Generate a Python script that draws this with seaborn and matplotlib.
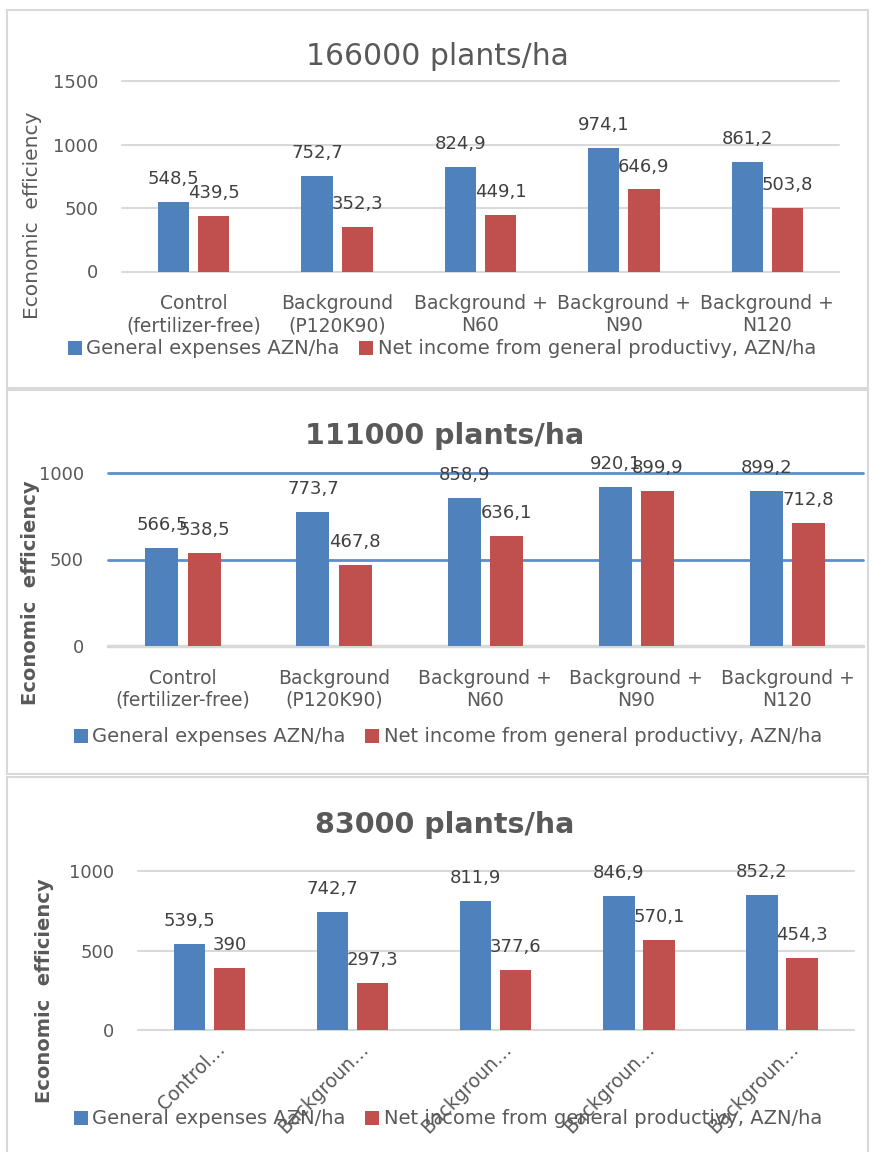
import matplotlib

matplotlib.use("Agg")
import matplotlib.pyplot as plt
import matplotlib.transforms as mtransforms
import pandas as pd
import seaborn as sns
from matplotlib.patches import Rectangle

sns.set_theme(style="white")
plt.rcParams["font.family"] = ["DejaVu Sans"]

W, H = 873, 1152

treatments = [
    "Control\n(fertilizer-free)",
    "Background\n(P120K90)",
    "Background +\nN60",
    "Background +\nN90",
    "Background +\nN120",
]
short_labels = ["Control…", "Backgroun…", "Backgroun…", "Backgroun…", "Backgroun…"]
series_names = ["General expenses AZN/ha", "Net income from general productivy, AZN/ha"]

expenses_166 = [548.5, 752.7, 824.9, 974.1, 861.2]
income_166 = [439.5, 352.3, 449.1, 646.9, 503.8]
expenses_111 = [566.5, 773.7, 858.9, 920.1, 899.2]
income_111 = [538.5, 467.8, 636.1, 899.9, 712.8]
expenses_83 = [539.5, 742.7, 811.9, 846.9, 852.2]
income_83 = [390, 297.3, 377.6, 570.1, 454.3]

titles = ["166000 plants/ha", "111000 plants/ha", "83000 plants/ha"]
yticks_166 = [0, 500, 1000, 1500]
yticks_other = [0, 500, 1000]

BLUE = "#4F81BD"
RED = "#C0504D"
GREY_TXT = "#595959"
GRID = "#D9D9D9"


def fx(px):
    return px / W


def fy(py):
    return 1 - py / H


def fmt(v):
    return f"{v:g}".replace(".", ",")


def draw_panel(fig, box, axes_px, expenses, income, title, bold, yticks,
               grid_color, title_xy, ylabel_xy, legend_xy, rotated=False):
    # panel frame
    x0, y0, x1, y1 = box
    fig.patches.append(Rectangle((fx(x0), fy(y1)), fx(x1) - fx(x0), fy(y0) - fy(y1),
                                 transform=fig.transFigure, fill=False,
                                 edgecolor=GRID, linewidth=1.5))
    left, top, right, bottom = axes_px
    ax = fig.add_axes([fx(left), fy(bottom), fx(right) - fx(left), fy(top) - fy(bottom)])

    df = pd.DataFrame({
        "treatment": treatments * 2,
        "series": [series_names[0]] * 5 + [series_names[1]] * 5,
        "value": list(expenses) + list(income),
    })
    sns.barplot(data=df, x="treatment", y="value", hue="series",
                palette=[BLUE, RED], width=0.56, gap=0.22, linewidth=0,
                saturation=1, ax=ax)

    for cont, vals in zip(ax.containers, [expenses, income]):
        ax.bar_label(cont, labels=[fmt(v) for v in vals], padding=10,
                     fontsize=13, color="#404040")

    ax.set_ylim(yticks[0], yticks[-1])
    ax.set_yticks(yticks)
    ax.set_axisbelow(True)
    ax.grid(axis="y", color=grid_color, linewidth=1.5 if grid_color == GRID else 2)
    ax.grid(axis="x", visible=False)
    for gl in ax.get_ygridlines():
        gl.set_clip_on(False)
    if grid_color != GRID:
        # category axis stays grey even when the gridlines are blue
        ax.axhline(yticks[0], color=GRID, linewidth=2.5, zorder=0.8, clip_on=False)
    sns.despine(ax=ax, left=True, bottom=True)
    ax.set_xlabel("")
    ax.set_ylabel("")
    ax.tick_params(axis="y", length=0, pad=17, labelsize=13, labelcolor=GREY_TXT)

    if rotated:
        ax.set_xticks(range(5))
        ax.set_xticklabels(short_labels, rotation=45, ha="right", va="baseline",
                           rotation_mode="anchor")
        ax.tick_params(axis="x", length=0, pad=14.5, labelsize=13.5, labelcolor=GREY_TXT)
        shift = mtransforms.ScaledTranslation(17 / 100, 0, fig.dpi_scale_trans)
        for lab in ax.get_xticklabels():
            lab.set_transform(lab.get_transform() + shift)
    else:
        ax.tick_params(axis="x", length=0, pad=16.5, labelsize=13.5, labelcolor=GREY_TXT)

    sns.move_legend(ax, loc="center left", bbox_to_anchor=(fx(legend_xy[0]), fy(legend_xy[1])),
                    bbox_transform=fig.transFigure, ncol=2, frameon=False, title=None,
                    fontsize=14, handlelength=0.7, handleheight=0.7, handletextpad=0.25,
                    columnspacing=1.0, borderpad=0, borderaxespad=0,
                    labelcolor=GREY_TXT)

    weight = "bold" if bold else "normal"
    fig.text(fx(title_xy[0]), fy(title_xy[1]), title, ha="center", va="baseline",
             fontsize=20.5 if bold else 21.5, fontweight=weight, color=GREY_TXT)
    fig.text(fx(ylabel_xy[0]), fy(ylabel_xy[1]), "Economic  efficiency", rotation=90,
             ha="center", va="center", fontsize=14 if bold else 14.5,
             fontweight=weight, color=GREY_TXT)
    return ax


fig = plt.figure(figsize=(W / 100, H / 100), dpi=100)

draw_panel(fig, (7, 10, 868, 388), (122, 81.3, 839, 271.5), expenses_166, income_166,
           titles[0], False, yticks_166, GRID, (437, 65), (33, 215), (68, 349))
draw_panel(fig, (7, 390, 868, 774), (107.5, 473.3, 863, 645.7), expenses_111, income_111,
           titles[1], True, yticks_other, "#5B8FCF", (444.6, 444), (31, 593), (74, 737))
draw_panel(fig, (7, 777, 868, 1160), (138, 871.3, 853.6, 1030), expenses_83, income_83,
           titles[2], True, yticks_other, GRID, (444.6, 833), (45, 991), (74, 1119),
           rotated=True)

fig.savefig("out.png", dpi=100, facecolor="white")
